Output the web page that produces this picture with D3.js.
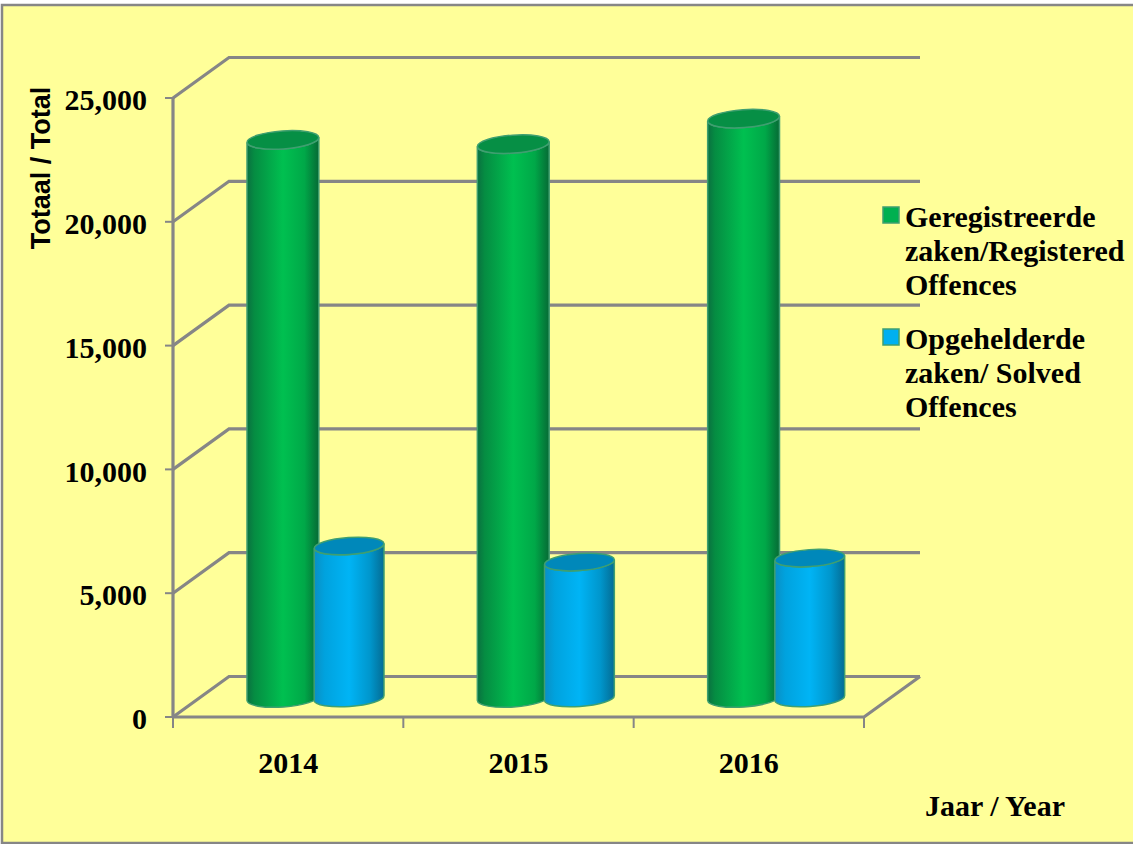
<!DOCTYPE html>
<html><head><meta charset="utf-8">
<script src="https://cdnjs.cloudflare.com/ajax/libs/d3/7.8.5/d3.min.js"></script>
<style>html,body{margin:0;padding:0;background:#fff}svg{display:block}
text{font-family:"Liberation Serif",serif;font-weight:bold;fill:#000}</style>
</head><body><svg id="c" width="1133" height="844"></svg>
<script>
const years = ["2014","2015","2016"];
const seriesNames = ["Geregistreerde zaken/Registered Offences","Opgehelderde zaken/ Solved Offences"];
const registered = [22540,22370,23400];
const solved = [6140,5490,5650];
const yTicks = [0,5000,10000,15000,20000,25000];
const legendLines = [["Geregistreerde","zaken/Registered","Offences"],["Opgehelderde","zaken/ Solved","Offences"]];

const svg = d3.select("#c");
const GRAY="#868686";
const defs = svg.append("defs");
function grad(id,stops){
  const g=defs.append("linearGradient").attr("id",id);
  stops.forEach(s=>g.append("stop").attr("offset",s[0]).attr("stop-color",s[1]));
}
grad("gGreen",[[0,"#0a7040"],[.1,"#058c42"],[.5,"#00c050"],[.8,"#00a848"],[1,"#066a35"]]);
grad("gBlue",[[0,"#0a8fc4"],[.15,"#00a2de"],[.5,"#00b4f5"],[.8,"#0096cc"],[1,"#046c94"]]);

svg.append("rect").attr("x",2).attr("y",5).attr("width",1140).attr("height",838)
  .attr("fill","#FFFF99").attr("stroke",GRAY).attr("stroke-width",2.5);

const y = d3.scaleLinear().domain([0,25000]).range([717,98]);
const x = d3.scaleBand().domain(years).range([173,864]);
const depthX=56, depthY=-40.5;

const walls = svg.append("g").attr("fill","none").attr("stroke",GRAY).attr("stroke-width",3.2);
yTicks.forEach(t=>{
  walls.append("path").attr("d",d3.line()([[x.range()[0],y(t)],[x.range()[0]+depthX,y(t)+depthY],[920,y(t)+depthY]]));
});
walls.append("path").attr("d",d3.line()([[x.range()[0],y(0)],[x.range()[1],y(0)],[920,y(0)+depthY]]));
walls.append("path").attr("d",d3.line()([[x.range()[0],y(0)],[x.range()[0],y(25000)]]));

const axisY = svg.append("g").attr("transform",`translate(${x.range()[0]},2)`)
  .call(d3.axisLeft(y).tickValues(yTicks).tickFormat(d3.format(",")).tickSize(0).tickPadding(26));
axisY.select(".domain").remove();
axisY.selectAll("text").attr("font-size",30).attr("font-family","Liberation Serif").attr("font-weight","bold").attr("fill","#000");
svg.append("g").selectAll("line").data(yTicks).join("line")
  .attr("x1",x.range()[0]-8).attr("x2",x.range()[0]).attr("y1",d=>y(d)).attr("y2",d=>y(d))
  .attr("stroke",GRAY).attr("stroke-width",2);

const axisX = svg.append("g").attr("transform",`translate(0,${y(0)})`)
  .call(d3.axisBottom(x).tickSize(0).tickPadding(35));
axisX.select(".domain").remove();
axisX.selectAll("text").attr("font-size",30).attr("font-family","Liberation Serif").attr("font-weight","bold").attr("fill","#000");
const edges = years.map(d=>x(d)).concat([x.range()[1]]);
svg.append("g").selectAll("line").data(edges).join("line")
  .attr("x1",d=>d).attr("x2",d=>d).attr("y1",y(0)).attr("y2",y(0)+11)
  .attr("stroke",GRAY).attr("stroke-width",2);

const inner = d3.scaleBand().domain([0,1]).range([74,211]).paddingInner(-0.04);
const floorY = y(0)-19;
const vy = v => floorY-(y(0)-y(v));
const tiltDeg=-4;
function cyl(cx,v,rx,ry,fillId,topFill){
  const g=svg.append("g");
  const d=rx*Math.sin(-tiltDeg*Math.PI/180), top=vy(v), base=floorY;
  g.append("path").attr("d",
    `M${cx-rx},${top+d} L${cx-rx},${base+d} A${rx},${ry} ${tiltDeg} 0 0 ${cx+rx},${base-d} L${cx+rx},${top-d} A${rx},${ry} ${tiltDeg} 0 1 ${cx-rx},${top+d} Z`)
    .attr("fill",`url(#${fillId})`).attr("stroke","#3f9f70").attr("stroke-width",1.5);
  g.append("ellipse").attr("cx",cx).attr("cy",top).attr("rx",rx).attr("ry",ry)
    .attr("transform",`rotate(${tiltDeg} ${cx} ${top})`)
    .attr("fill",topFill).attr("stroke","#3f9f70").attr("stroke-width",1.5);
}
years.forEach((yr,i)=>{
  const b=inner.bandwidth();
  cyl(x(yr)+inner(0)+b/2+1,registered[i],b/2+1,9,"gGreen","#068f45");
  cyl(x(yr)+inner(1)+b/2,solved[i],b/2,8.5,"gBlue","#0088ba");
});

const lg=[{top:207,col:"#00B050"},{top:329,col:"#00B0F0"}];
lg.forEach((L,i)=>{
  svg.append("rect").attr("x",883).attr("y",L.top).attr("width",16).attr("height",16)
    .attr("fill",L.col).attr("stroke","#3f9f70").attr("stroke-width",1.5);
  svg.append("text").attr("font-size",30).selectAll("tspan").data(legendLines[i]).join("tspan")
    .attr("x",905).attr("y",(d,j)=>L.top+20+j*33.8).text(d=>d);
});
svg.append("text").attr("transform","translate(50,168) rotate(-90)").attr("text-anchor","middle")
  .attr("font-size",27).style("font-family","'Liberation Sans',sans-serif").text("Totaal / Total");
svg.append("text").attr("x",995).attr("y",816).attr("text-anchor","middle").attr("font-size",30).text("Jaar / Year");
</script></body></html>
